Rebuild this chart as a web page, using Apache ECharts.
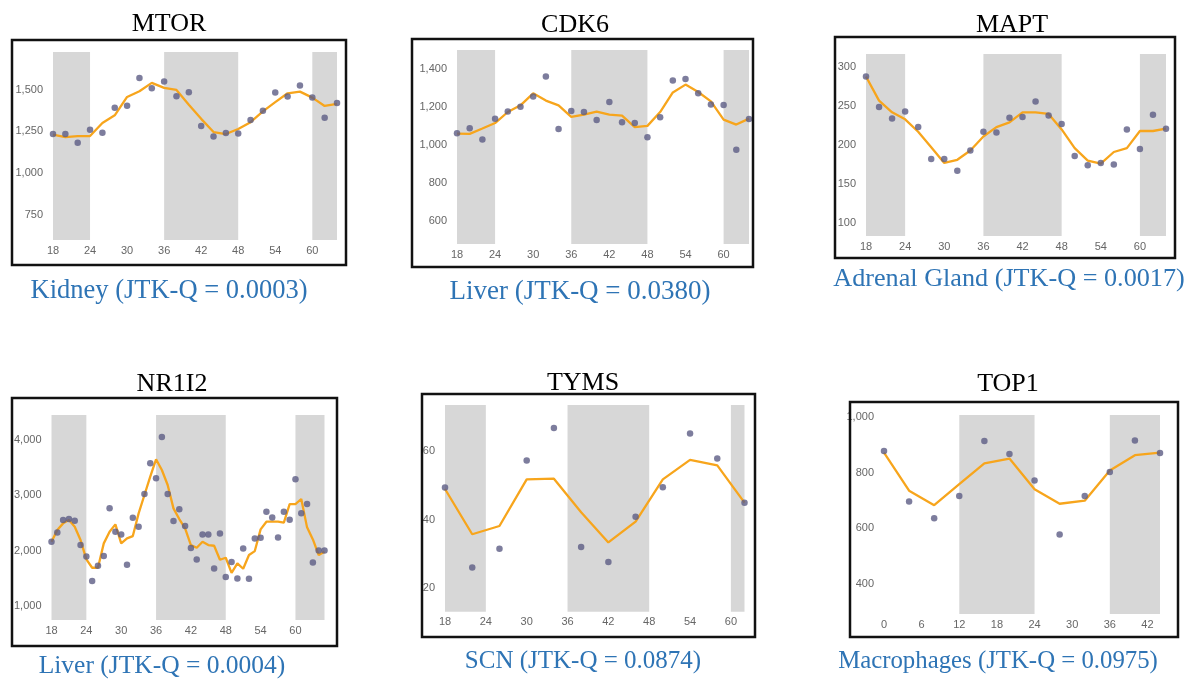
<!DOCTYPE html>
<html>
<head>
<meta charset="utf-8">
<script src="https://cdn.jsdelivr.net/npm/echarts@6/dist/echarts.min.js"></script>
<style>
html,body{margin:0;padding:0;background:#fff;}
#c{width:1194px;height:679px;}
</style>
</head>
<body>
<div id="c"></div>
<script>
// ---------------- DATA ----------------
// MTOR – Kidney
const mtorHours  = [18,20,22,24,26,28,30,32,34,36,38,40,42,44,46,48,50,52,54,56,58,60,62,64];
const mtorPoints = [1234,1234,1182,1260,1242,1392,1404,1570,1508,1548,1460,1484,1282,1220,1240,1238,1318,1374,1482,1458,1524,1452,1332,1420];
const mtorTrend  = [1230,1216,1222,1222,1300,1346,1456,1490,1540,1510,1498,1410,1325,1246,1234,1264,1305,1370,1425,1478,1488,1452,1402,1415];
const mtorBands  = [[18,24],[36,48],[60,64]];
const mtorXTicks = [18,24,30,36,42,48,54,60];
const mtorYTicks = [750,1000,1250,1500];

// CDK6 – Liver
const cdk6Hours  = [18,20,22,24,26,28,30,32,34,36,38,40,42,44,46,48,50,52,54,56,58,60,62,64];
const cdk6Points = [1062,1088,1029,1139,1176,1202,1255,1361,1085,1179,1174,1132,1227,1120,1116,1041,1146,1339,1347,1272,1214,1211,975,1137];
const cdk6Trend  = [1060,1059,1087,1116,1174,1209,1272,1234,1209,1148,1160,1176,1160,1155,1094,1101,1174,1277,1318,1279,1230,1134,1108,1139];
const cdk6Bands  = [[18,24],[36,48],[60,64]];
const cdk6XTicks = [18,24,30,36,42,48,54,60];
const cdk6YTicks = [600,800,1000,1200,1400];

// MAPT – Adrenal Gland
const maptHours  = [18,20,22,24,26,28,30,32,34,36,38,40,42,44,46,48,50,52,54,56,58,60,62,64];
const maptPoints = [288,249,234,243,223,182,182,167,193,217,216,235,236,256,238,227,186,174,177,175,220,195,239,221];
const maptTrend  = [288,257,242,233,217,197,177,181,193,211,223,229,242,242,240,220,196,180,176,191,196,218,218,221];
const maptBands  = [[18,24],[36,48],[60,64]];
const maptXTicks = [18,24,30,36,42,48,54,60];
const maptYTicks = [100,150,200,250,300];

// NR1I2 – Liver
const nr1i2Hours  = [18,19,20,21,22,23,24,25,26,27,28,29,30,31,32,33,34,35,36,37,38,39,40,41,42,43,44,45,46,47,48,49,50,51,52,53,54,55,56,57,58,59,60,61,62,63,64,65];
const nr1i2Points = [2163,2331,2554,2572,2542,2102,1898,1452,1729,1904,2765,2343,2295,1747,2596,2434,3024,3578,3307,4054,3024,2536,2747,2446,2048,1843,2295,2295,1681,2313,1524,1795,1500,2042,1494,2223,2235,2705,2602,2241,2705,2560,3289,2675,2843,1789,2006,2006];
const nr1i2Trend  = [2163,2373,2494,2554,2434,2193,1843,1693,1693,2133,2343,2476,2133,2223,2265,2675,3006,3337,3651,3458,3187,2765,2572,2404,2102,2054,2163,2102,2090,1837,1873,1602,1771,1675,1922,1994,2386,2524,2524,2524,2506,2843,2843,2934,2422,2205,1922,1982];
const nr1i2Bands  = [[18,24],[36,48],[60,65]];
const nr1i2XTicks = [18,24,30,36,42,48,54,60];
const nr1i2YTicks = [1000,2000,3000,4000];

// TYMS – SCN
const tymsHours  = [18,22,26,30,34,38,42,46,50,54,58,62];
const tymsPoints = [49.3,26.0,31.5,57.2,66.7,32.0,27.6,40.8,49.4,65.1,57.8,44.9];
const tymsTrend  = [48.9,35.7,38.1,51.7,51.9,42.1,33.3,39.4,51.7,57.4,55.8,44.9];
const tymsBands  = [[18,24],[36,48],[60,62]];
const tymsXTicks = [18,24,30,36,42,48,54,60];
const tymsYTicks = [20,40,60];

// TOP1 – Macrophages
const top1Hours  = [0,4,8,12,16,20,24,28,32,36,40,44];
const top1Points = [877,696,636,716,913,866,771,578,716,802,915,870];
const top1Trend  = [871,735,683,758,833,850,740,688,699,807,862,871];
const top1Bands  = [[12,24],[36,44]];
const top1XTicks = [0,6,12,18,24,30,36,42];
const top1YTicks = [400,600,800,1000];

// Text
const geneTitles = ['MTOR','CDK6','MAPT','NR1I2','TYMS','TOP1'];
const tissueLabels = ['Kidney (JTK-Q = 0.0003)','Liver (JTK-Q = 0.0380)','Adrenal Gland (JTK-Q = 0.0017)',
                      'Liver (JTK-Q = 0.0004)','SCN (JTK-Q = 0.0874)','Macrophages (JTK-Q = 0.0975)'];

// ---------------- LAYOUT ----------------
const panels = [
  {hours:mtorHours, pts:mtorPoints, trend:mtorTrend, bands:mtorBands, xt:mtorXTicks, yt:mtorYTicks,
   xr:[18,64], yr:[600,1725], grid:{left:53,top:52,width:284,height:188}, box:[12,40,334,225],
   title:[169,24], sub:[169,291], subSize:26.5},
  {hours:cdk6Hours, pts:cdk6Points, trend:cdk6Trend, bands:cdk6Bands, xt:cdk6XTicks, yt:cdk6YTicks,
   xr:[18,64], yr:[480,1500], grid:{left:457,top:50,width:292,height:194}, box:[412,39,341,228],
   title:[575,25], sub:[580,292], subSize:27},
  {hours:maptHours, pts:maptPoints, trend:maptTrend, bands:maptBands, xt:maptXTicks, yt:maptYTicks,
   xr:[18,64], yr:[83,317], grid:{left:866,top:54,width:300,height:182}, box:[835,37,340,221],
   title:[1012,25], sub:[1009,279], subSize:26.2},
  {hours:nr1i2Hours, pts:nr1i2Points, trend:nr1i2Trend, bands:nr1i2Bands, xt:nr1i2XTicks, yt:nr1i2YTicks,
   xr:[18,65], yr:[750,4450], grid:{left:51.5,top:415,width:273,height:205}, box:[12,398,325,248],
   title:[172,384], sub:[162,666], subSize:25.5},
  {hours:tymsHours, pts:tymsPoints, trend:tymsTrend, bands:tymsBands, xt:tymsXTicks, yt:tymsYTicks,
   xr:[18,62], yr:[13.1,73.4], grid:{left:445,top:405,width:299.5,height:206.7}, box:[422,394,333,243],
   title:[583,383], sub:[583,661], subSize:25},
  {hours:top1Hours, pts:top1Points, trend:top1Trend, bands:top1Bands, xt:top1XTicks, yt:top1YTicks,
   xr:[0,44], yr:[293,1006], grid:{left:884,top:415,width:276,height:199}, box:[850,402,328,235],
   title:[1008,384], sub:[998,661], subSize:24.8}
];

const labelStyle = {color:'#666', fontSize:11, fontFamily:'Liberation Sans, Arial, sans-serif'};
const grids=[], xAxes=[], yAxes=[], series=[], graphics=[];

panels.forEach((p,i)=>{
  grids.push(Object.assign({containLabel:false}, p.grid));
  xAxes.push({type:'value', gridIndex:i, min:p.xr[0], max:p.xr[1],
    axisLine:{show:false}, axisTick:{show:false}, splitLine:{show:false},
    axisLabel:Object.assign({margin:5, customValues:p.xt, formatter:v=>String(v)}, labelStyle)});
  yAxes.push({type:'value', gridIndex:i, min:p.yr[0], max:p.yr[1],
    axisLine:{show:false}, axisTick:{show:false}, splitLine:{show:false},
    axisLabel:Object.assign({margin:10, customValues:p.yt, formatter:v=>Number(v).toLocaleString('en-US')}, labelStyle)});
  series.push({type:'line', xAxisIndex:i, yAxisIndex:i, data:[], silent:true,
    markArea:{silent:true, itemStyle:{color:'#d7d7d7'},
      data:p.bands.map(b=>[{xAxis:b[0]},{xAxis:b[1]}])}});
  series.push({type:'line', xAxisIndex:i, yAxisIndex:i, showSymbol:false, silent:true,
    lineStyle:{color:'#f7a51c', width:2.3}, z:3,
    data:p.hours.map((h,k)=>[h,p.trend[k]])});
  series.push({type:'scatter', xAxisIndex:i, yAxisIndex:i, symbolSize:6.5, silent:true,
    itemStyle:{color:'#5c5c84'}, z:4,
    data:p.hours.map((h,k)=>[h,p.pts[k]])});
  graphics.push({type:'rect', shape:{x:p.box[0],y:p.box[1],width:p.box[2],height:p.box[3]},
    style:{fill:null, stroke:'#111', lineWidth:2.5}, z:10});
  graphics.push({type:'text', x:p.title[0], y:p.title[1],
    style:{text:geneTitles[i], align:'center', verticalAlign:'middle', fill:'#000',
      font:'26px "Liberation Serif", "Times New Roman", serif'}});
  graphics.push({type:'text', x:p.sub[0], y:p.sub[1],
    style:{text:tissueLabels[i], align:'center', verticalAlign:'middle', fill:'#2E74B5',
      font:p.subSize+'px "Liberation Serif", "Times New Roman", serif'}});
});

const chart = echarts.init(document.getElementById('c'), null, {renderer:'canvas'});
chart.setOption({
  animation:false,
  backgroundColor:'#fff',
  grid:grids, xAxis:xAxes, yAxis:yAxes, series:series, graphic:graphics
});
</script>
</body>
</html>
